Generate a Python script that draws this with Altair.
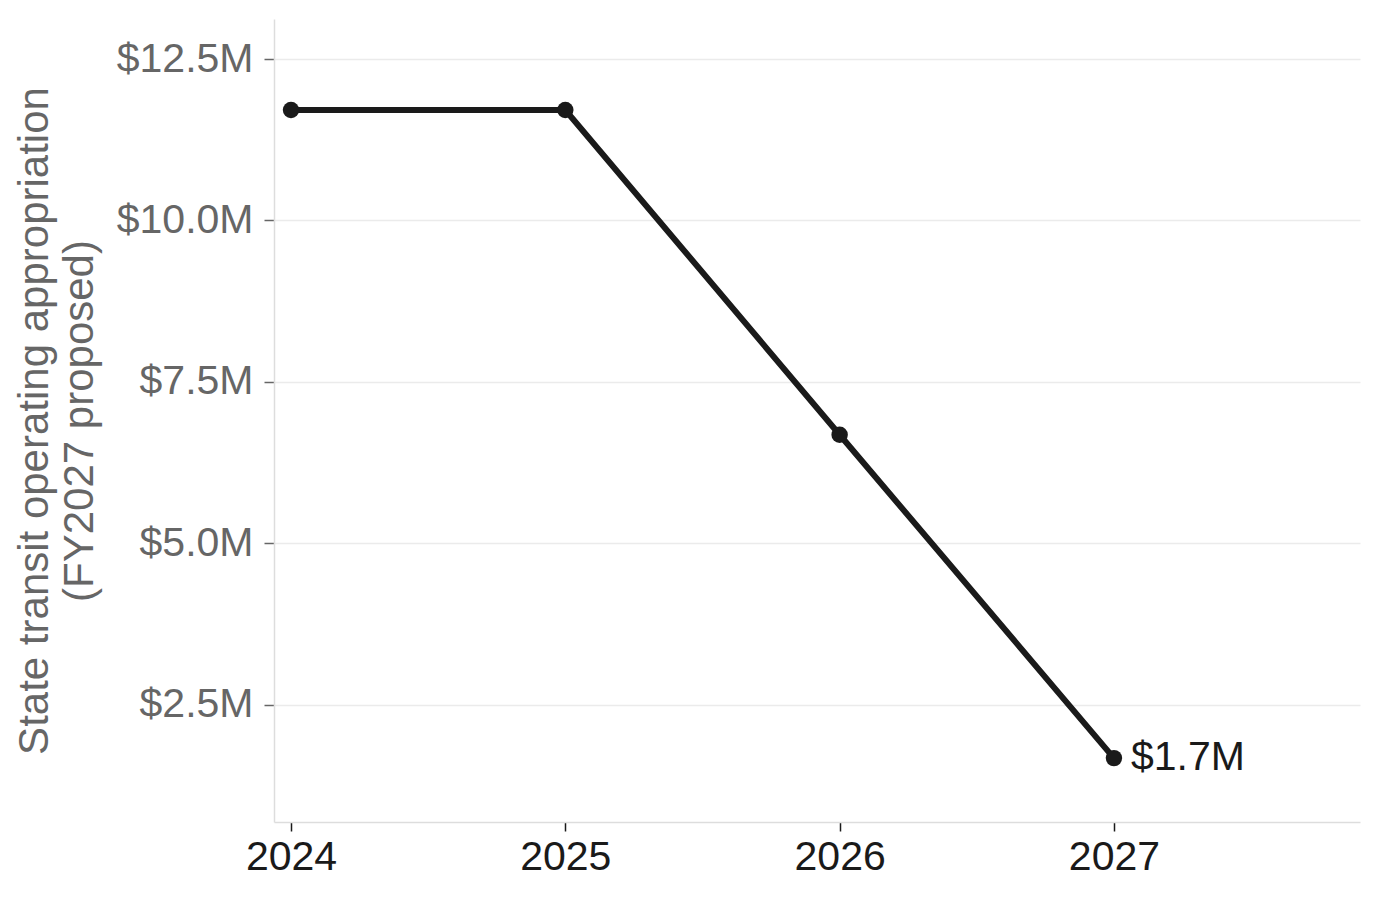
import altair as alt
import pandas as pd

years = [2024, 2025, 2026, 2027]
values_m = [11.71, 11.71, 6.68, 1.67]
y_ticks = [2.5, 5.0, 7.5, 10.0, 12.5]
x_ticks = [2024, 2025, 2026, 2027]
label_text = ["", "", "", "$1.7M"]

df = pd.DataFrame({"year": years, "value": values_m, "label": label_text})

FONT = "Liberation Sans"

x = alt.X(
    "year:Q",
    scale=alt.Scale(domain=[2023.938, 2027.897], nice=False, zero=False),
    axis=alt.Axis(
        values=x_ticks, format="d", title=None, grid=False,
        domainColor="#dddddd", domainWidth=1.5,
        tickColor="#1a1a1a", tickSize=9, tickWidth=1.5,
        labelColor="#1a1a1a", labelFontSize=41, labelPadding=6, labelFont=FONT,
    ),
)
y = alt.Y(
    "value:Q",
    scale=alt.Scale(domain=[0.68, 13.12], nice=False, zero=False),
    axis=alt.Axis(
        values=y_ticks,
        labelExpr="'$' + format(datum.value, '.1f') + 'M'",
        title=["State transit operating appropriation", "(FY2027 proposed)"],
        titleColor="#666666", titleFontSize=42, titleFontWeight="normal",
        titleFont=FONT, titleLineHeight=45, titlePadding=15,
        grid=True, gridColor="#ebebeb", gridWidth=1.5,
        domainColor="#dddddd", domainWidth=1.5,
        tickColor="#666666", tickSize=10, tickWidth=1.5,
        labelColor="#666666", labelFontSize=41, labelPadding=11, labelFont=FONT,
    ),
)

base = alt.Chart(df)
line = base.mark_line(color="#1a1a1a", strokeWidth=6).encode(x=x, y=y)
points = base.mark_circle(color="#1a1a1a", size=270, opacity=1).encode(x=x, y=y)
labels = base.mark_text(
    align="left", baseline="middle", dx=17, fontSize=41, font=FONT, color="#1a1a1a"
).encode(x=x, y=y, text="label:N")

chart = (
    alt.layer(line, points, labels)
    .properties(
        width=1086, height=803,
        autosize=alt.AutoSizeParams(type="none"),
        padding={"left": 266, "top": 11, "right": 10, "bottom": 70},
    )
    .configure_view(stroke=None)
)

chart.save("out.html", embed_options={"renderer": "svg", "actions": False})
